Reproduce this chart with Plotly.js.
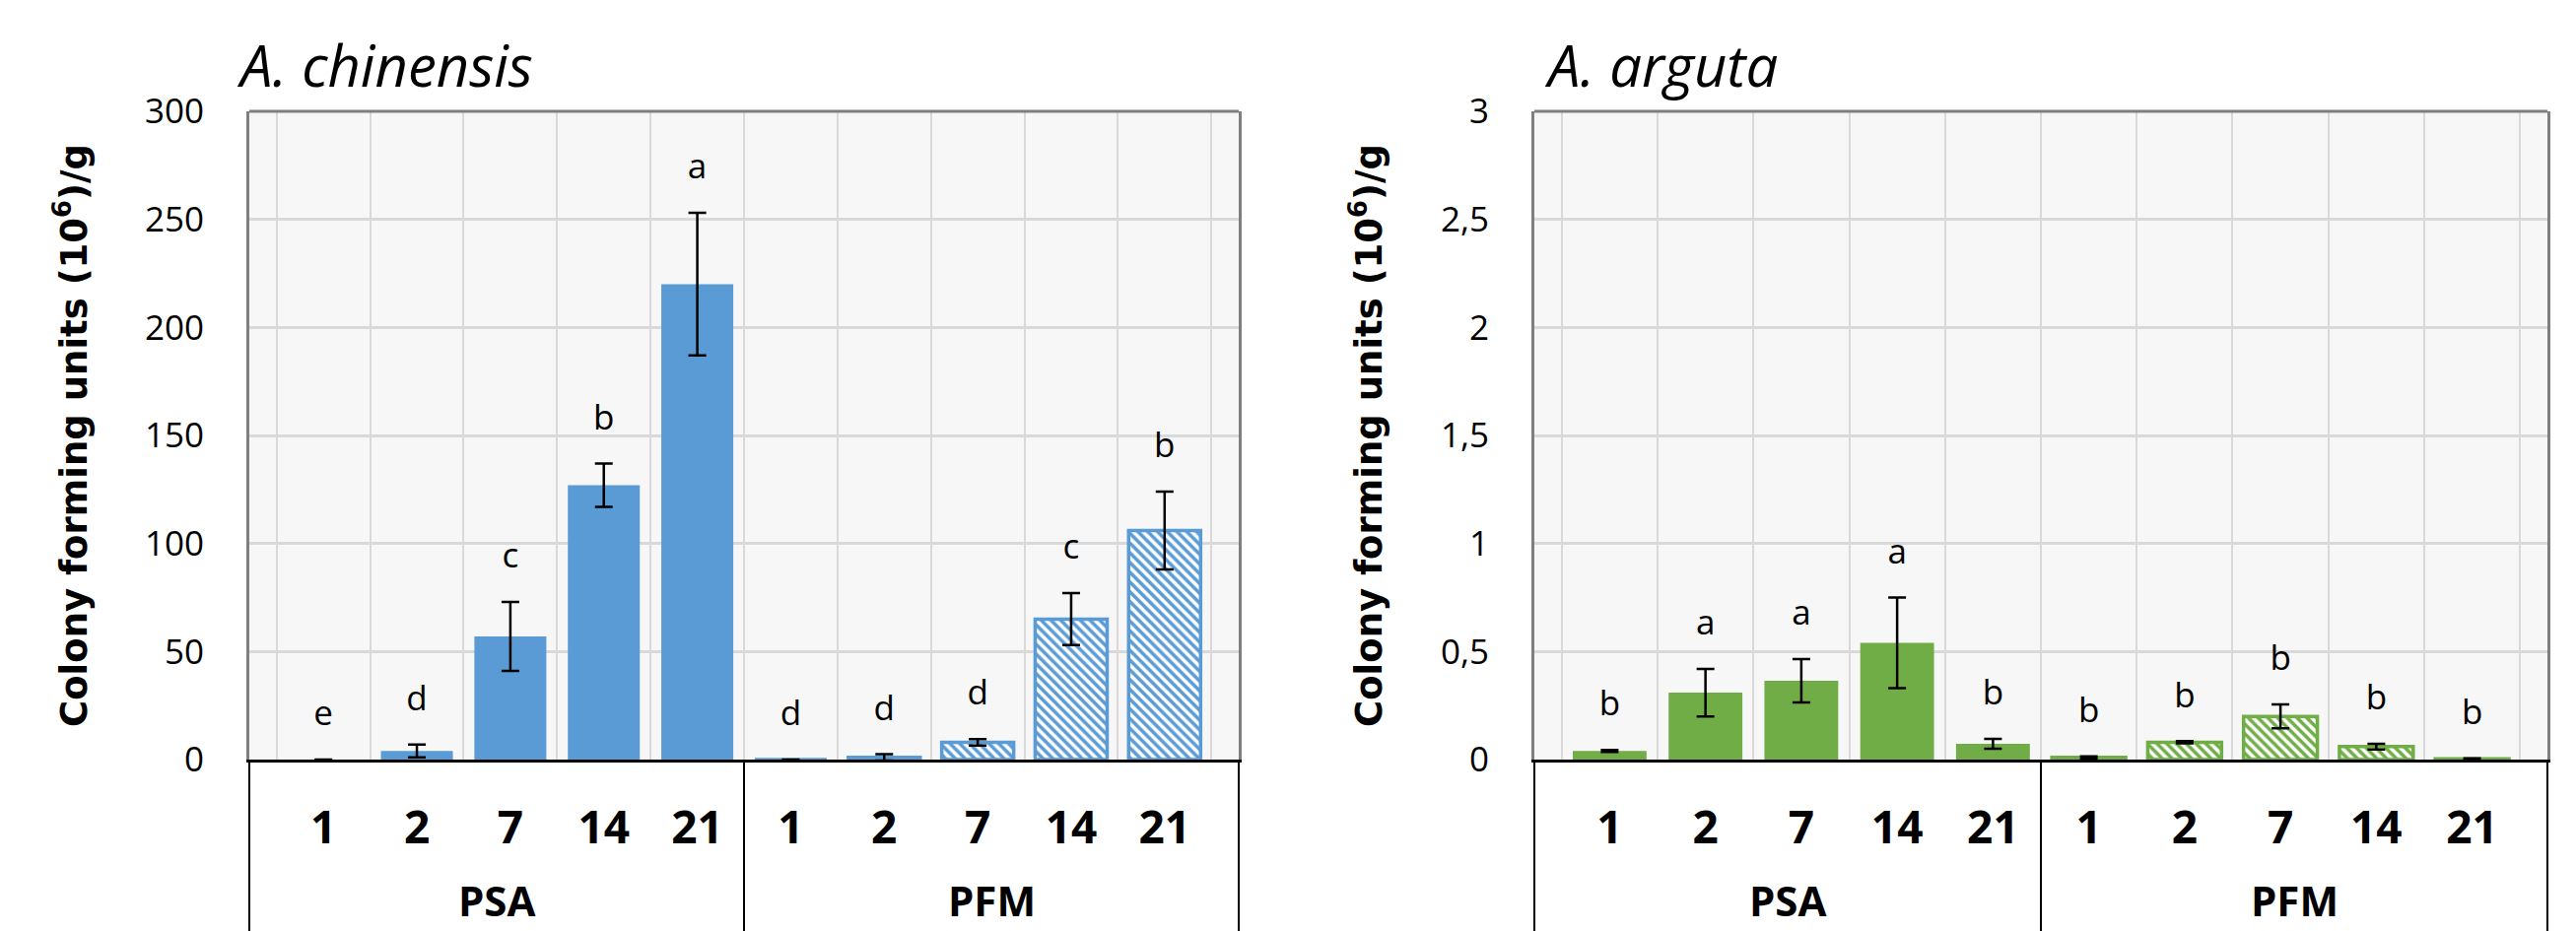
<!DOCTYPE html>
<html><head><meta charset="utf-8">
<script src="https://cdn.plot.ly/plotly-3.0.1.min.js"></script>
<style>html,body{margin:0;padding:0;background:#fff}#chart{width:2614px;height:945px}</style>
</head><body><div id="chart"></div>
<script>
// ---- data ----
const days = ['1', '2', '7', '14', '21'];
const groups = ['PSA', 'PFM'];

const chinPSA = [0, 4, 57, 127, 220];
const chinPSAerr = [0, 3, 16, 10, 33];
const chinPFM = [0, 1, 8, 65, 106];
const chinPFMerr = [0, 1.5, 1.5, 12, 18];
const chinPSAletters = ['e', 'd', 'c', 'b', 'a'];
const chinPFMletters = ['d', 'd', 'd', 'c', 'b'];

const argPSA = [0.04, 0.31, 0.365, 0.54, 0.073];
const argPSAerr = [0.005, 0.11, 0.10, 0.21, 0.023];
const argPFM = [0.01, 0.08, 0.2, 0.06, 0.003];
const argPFMerr = [0.005, 0.005, 0.055, 0.013, 0.003];
const argPSAletters = ['b', 'a', 'a', 'a', 'b'];
const argPFMletters = ['b', 'b', 'b', 'b', 'b'];

const titles = ['A. chinensis', 'A. arguta'];
const yTitle = '<b>Colony forming units (10<sup>6</sup>)/g</b>';

// ---- styling ----
const blue = '#5B9BD5', green = '#70AD47';
const FONT = 'Open Sans, Noto Sans, sans-serif';

// unique category keys built from group + day, displayed as the day only
function cats(g) { return days.map(d => g + ' ' + d); }
const allCats = groups.flatMap(cats);
const allDayLabels = groups.flatMap(() => days);

function chartTraces(psa, psaErr, pfm, pfmErr, lPSA, lPFM, color, xa, ya) {
  const err = (arr) => ({ type: 'data', array: arr, visible: true, color: '#000', thickness: 2.5, width: 9 });
  const tops = psa.map((v, i) => v + psaErr[i]).concat(pfm.map((v, i) => v + pfmErr[i]));
  return [
    { type: 'bar', x: cats(groups[0]), y: psa, xaxis: xa, yaxis: ya, error_y: err(psaErr),
      marker: { color: color, line: { width: 0 } }, showlegend: false },
    { type: 'bar', x: cats(groups[1]), y: pfm, xaxis: xa, yaxis: ya, error_y: err(pfmErr),
      marker: { color: '#ffffff', line: { color: color, width: 3.5 },
        pattern: { shape: '\\', fgcolor: color, bgcolor: '#ffffff', size: 7, solidity: 0.5 } },
      showlegend: false },
    { type: 'scatter', mode: 'markers+text', x: allCats, y: tops, xaxis: xa, yaxis: ya,
      text: lPSA.concat(lPFM), textposition: 'top center', cliponaxis: false,
      marker: { size: 40, color: 'rgba(0,0,0,0)' },
      textfont: { family: FONT, size: 35, color: '#000' }, showlegend: false }
  ];
}

const data = [].concat(
  chartTraces(chinPSA, chinPSAerr, chinPFM, chinPFMerr, chinPSAletters, chinPFMletters, blue, 'x', 'y'),
  chartTraces(argPSA, argPSAerr, argPFM, argPFMerr, argPSAletters, argPFMletters, green, 'x2', 'y2')
);

const W = 2614, H = 945;
const plotBottom = 1 - 771 / H, plotTop = 1 - 113 / H;

function xAxis(dom, anchor) {
  return { domain: dom, anchor: anchor, type: 'category', categoryorder: 'array', categoryarray: allCats,
    tickmode: 'array', tickvals: allCats, ticktext: allDayLabels, tickson: 'boundaries',
    showgrid: true, gridcolor: '#d9d9d9', gridwidth: 2,
    showline: true, linecolor: '#000', linewidth: 3, zeroline: false, ticks: '', ticklabelstandoff: 27,
    tickfont: { family: FONT, size: 46, color: '#000', weight: 'bold' }, automargin: false, fixedrange: true };
}
function yAxis(range, dtick, anchor) {
  return { domain: [plotBottom, plotTop], anchor: anchor, range: range, dtick: dtick,
    showgrid: true, gridcolor: '#d9d9d9', gridwidth: 3, zeroline: false,
    showline: true, linecolor: '#7f7f7f', linewidth: 3, mirror: true, ticks: '', ticklabelstandoff: 36,
    tickfont: { family: FONT, size: 35, color: '#000' }, automargin: false, fixedrange: true,
    title: { text: yTitle, standoff: 48, font: { family: 'DejaVu Sans, sans-serif', size: 37, color: '#000' } } };
}

const shapes = [];
const annotations = [];
[['x', 'y'], ['x2', 'y2']].forEach(([xa, ya]) => {
  shapes.push({ type: 'line', xref: xa + ' domain', yref: ya + ' domain', x0: 0, x1: 1, y0: 1, y1: 1,
    line: { color: '#7f7f7f', width: 3 } });
  [0, 0.5, 1].forEach(p => shapes.push({ type: 'line', xref: xa + ' domain', yref: 'paper', x0: p, x1: p,
    y0: 0, y1: plotBottom, line: { color: '#000', width: 2 } }));
  groups.forEach((g, i) => annotations.push({ text: '<b>' + g + '</b>', xref: xa + ' domain', yref: 'paper',
    x: 0.25 + 0.5 * i, y: 1 - 913 / H, xanchor: 'center', yanchor: 'middle', showarrow: false,
    font: { family: FONT, size: 42, color: '#000' } }));
});
annotations.push(
  { text: titles[0], xref: 'paper', yref: 'paper', x: 238 / W, y: 1 - 66 / H, xanchor: 'left', yanchor: 'middle',
    showarrow: false, font: { family: FONT, size: 58, style: 'italic', color: '#000' } },
  { text: titles[1], xref: 'paper', yref: 'paper', x: 1565 / W, y: 1 - 66 / H, xanchor: 'left', yanchor: 'middle',
    showarrow: false, font: { family: FONT, size: 58, style: 'italic', color: '#000' } }
);

const layout = {
  width: W, height: H, margin: { l: 0, r: 0, t: 0, b: 0 },
  paper_bgcolor: '#ffffff', plot_bgcolor: '#f7f7f7',
  barmode: 'overlay', bargap: 0.23, separators: ',.', hovermode: false,
  xaxis: xAxis([253 / W, 1257 / W], 'y'),
  yaxis: yAxis([0, 300], 50, 'x'),
  xaxis2: xAxis([1557 / W, 2585 / W], 'y2'),
  yaxis2: yAxis([0, 3], 0.5, 'x2'),
  shapes: shapes,
  annotations: annotations
};

Plotly.newPlot('chart', data, layout, { displayModeBar: false, staticPlot: true });
</script>
</body></html>
